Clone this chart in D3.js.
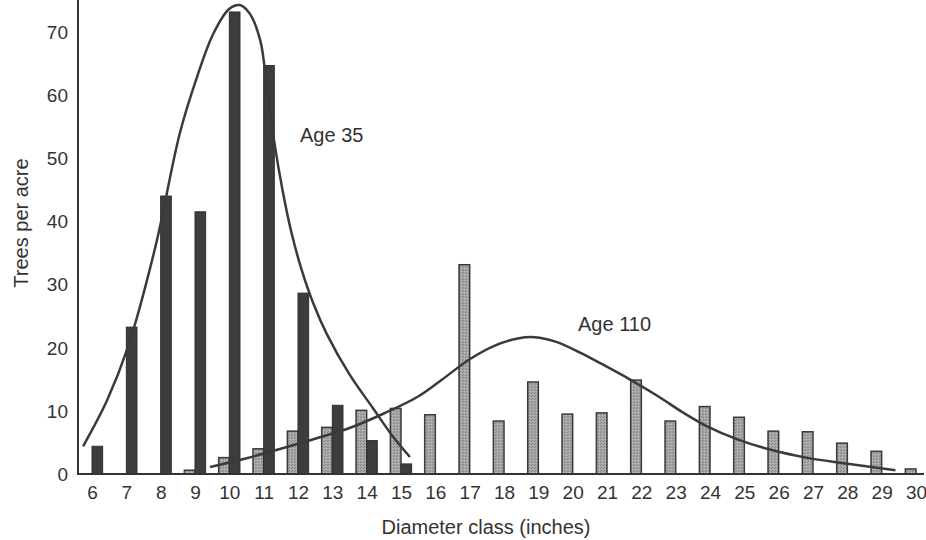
<!DOCTYPE html>
<html>
<head>
<meta charset="utf-8">
<script src="https://cdn.jsdelivr.net/npm/d3@7"></script>
<style>
  body { margin: 0; background: #fff; }
  text { font-family: "Liberation Sans", Arial, sans-serif; fill: #333; }
</style>
</head>
<body>
<script>
// diameter classes (inches)
const classes = d3.range(6, 31)

// Age 35 stand, trees per acre by class
const age35Classes = [6, 7, 8, 9, 10, 11, 12, 13, 14, 15]
const age35Values = [4.4, 23.3, 44.1, 41.6, 73.3, 64.8, 28.7, 10.9, 5.3, 1.6]

// Age 110 stand
const age110Classes = d3.range(9, 31)
const age110Values = [0.6, 2.6, 4.0, 6.8, 7.4, 10.1, 10.4, 9.4, 33.2, 8.4, 14.6,
    9.5, 9.7, 14.9, 8.4, 10.7, 9.0, 6.8, 6.7, 4.9, 3.6, 0.8]

// fitted curves, points [class, trees]
const age35Curve = [[5.74, 4.4], [6.44, 11.7], [7.05, 20.2], [7.84, 35.9],
    [8.56, 54.1], [9.06, 63.0], [9.53, 69.8], [10.0, 73.8], [10.3, 74.4], [10.6, 73.0],
    [10.9, 68.8], [11.04, 64.0], [11.3, 53.0], [11.55, 45.0], [11.8, 38.5], [12.1, 32.5],
    [12.45, 27.0], [12.84, 22.2], [13.5, 15.8], [14.19, 10.4], [14.77, 5.9], [15.26, 2.7]]
const age110Curve = [[9.44, 1.1], [10.5, 2.5], [11.5, 4.0], [12.5, 5.6], [13.5, 7.3],
    [14.5, 9.6], [15.5, 12.3], [16.2, 15.0], [17.0, 18.2], [17.7, 20.3], [18.4, 21.5],
    [18.9, 21.7], [19.5, 21.0], [20.2, 19.3], [20.9, 17.3], [21.7, 14.9], [22.5, 12.3],
    [23.2, 9.8], [23.9, 7.6], [24.8, 5.5], [25.8, 3.8], [26.8, 2.6], [27.9, 1.7], [29.4, 0.6]]

const yTicks = [0, 10, 20, 30, 40, 50, 60, 70]

const width = 926
const height = 540

const x = d3.scaleLinear().domain([6, 30]).range([92, 916])
const y = d3.scaleLinear().domain([0, 75.2]).range([474, 0])

const svg = d3.select("body").append("svg")
    .attr("width", width)
    .attr("height", height)

// stipple fill for the older stand
const pat = svg.append("defs").append("pattern")
    .attr("id", "stip")
    .attr("width", 3)
    .attr("height", 3)
    .attr("patternUnits", "userSpaceOnUse")
pat.append("rect").attr("width", 3).attr("height", 3).attr("fill", "#a6a6a6")
pat.append("rect").attr("x", 0).attr("y", 0).attr("width", 1).attr("height", 1).attr("fill", "#858585")
pat.append("rect").attr("x", 2).attr("y", 1).attr("width", 1).attr("height", 1).attr("fill", "#c0c0c0")
pat.append("rect").attr("x", 1).attr("y", 2).attr("width", 1).attr("height", 1).attr("fill", "#8a8a8a")

const bw = 0.31

svg.append("g")
    .selectAll("rect")
    .data(age110Classes.map((c, i) => ({ c: c, v: age110Values[i] })))
    .join("rect")
    .attr("x", d => x(d.c - bw))
    .attr("width", d => x(d.c) - x(d.c - bw))
    .attr("y", d => y(d.v))
    .attr("height", d => y(0) - y(d.v))
    .attr("fill", "url(#stip)")
    .attr("stroke", "#3a3a3a")
    .attr("stroke-width", 1.5)

svg.append("g")
    .selectAll("rect")
    .data(age35Classes.map((c, i) => ({ c: c, v: age35Values[i] })))
    .join("rect")
    .attr("x", d => x(d.c))
    .attr("width", d => x(d.c + bw) - x(d.c))
    .attr("y", d => y(d.v))
    .attr("height", d => y(0) - y(d.v))
    .attr("fill", "#3d3d3d")
    .attr("stroke", "#2e2e2e")
    .attr("stroke-width", 1)

const line = d3.line()
    .x(d => x(d[0]))
    .y(d => y(d[1]))
    .curve(d3.curveCatmullRom.alpha(0.5))

svg.append("path")
    .attr("d", line(age35Curve))
    .attr("fill", "none")
    .attr("stroke", "#3a3a3a")
    .attr("stroke-width", 2.5)

svg.append("path")
    .attr("d", line(age110Curve))
    .attr("fill", "none")
    .attr("stroke", "#3a3a3a")
    .attr("stroke-width", 2.5)

// axes
const yAxis = svg.append("g")
    .attr("transform", "translate(78,0)")
    .call(d3.axisLeft(y).tickValues(yTicks).tickSize(0).tickPadding(10))
yAxis.select(".domain").remove()
yAxis.selectAll("text").style("font-size", "19px").attr("fill", "#333")

const xAxis = svg.append("g")
    .attr("transform", "translate(0,474)")
    .call(d3.axisBottom(x).tickValues(classes).tickFormat(d3.format("d")).tickSize(0).tickPadding(12))
xAxis.select(".domain").remove()
xAxis.selectAll("text").style("font-size", "19px").attr("fill", "#333")

svg.append("line")
    .attr("x1", 78).attr("x2", 78)
    .attr("y1", 0).attr("y2", 475)
    .attr("stroke", "#333").attr("stroke-width", 2)
svg.append("line")
    .attr("x1", 77).attr("x2", 924)
    .attr("y1", 474).attr("y2", 474)
    .attr("stroke", "#333").attr("stroke-width", 2)

svg.append("text")
    .attr("transform", "translate(28,223) rotate(-90)")
    .attr("text-anchor", "middle")
    .style("font-size", "20px")
    .text("Trees per acre")

svg.append("text")
    .attr("x", 486)
    .attr("y", 534)
    .attr("text-anchor", "middle")
    .style("font-size", "20px")
    .text("Diameter class (inches)")

svg.append("text")
    .attr("x", 300)
    .attr("y", 142)
    .style("font-size", "20px")
    .text("Age 35")

svg.append("text")
    .attr("x", 578)
    .attr("y", 331)
    .style("font-size", "20px")
    .text("Age 110")
</script>
</body>
</html>
